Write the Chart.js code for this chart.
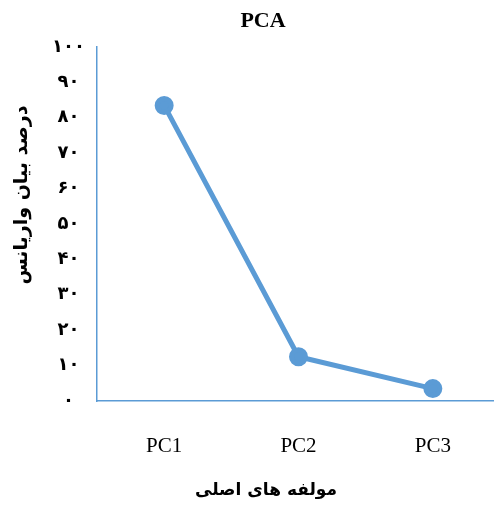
<!DOCTYPE html>
<html>
<head>
<meta charset="utf-8">
<script src="https://cdn.jsdelivr.net/npm/chart.js@4/dist/chart.umd.min.js"></script>
<style>
  html, body { margin: 0; padding: 0; background: #fff; overflow: hidden; }
</style>
</head>
<body>
<canvas id="c" width="500" height="509"></canvas>
<script>
// Principal components and the share of variance each one explains (%)
const components = ['PC1', 'PC2', 'PC3'];
const varianceShare = [83.5, 12.5, 3.5];
// Y tick labels in Persian digits, 0..100 step 10
const yTickLabels = ['۰', '۱۰', '۲۰', '۳۰', '۴۰', '۵۰', '۶۰', '۷۰', '۸۰', '۹۰', '۱۰۰'];

const chartTitle = 'PCA';
const yTitle = 'درصد بیان واریانس';
const xTitle = 'مولفه های اصلی';

const blue = '#5b9bd5';
const arabicFont = '"DejaVu Sans", sans-serif';
const serifFont = '"Liberation Serif", "Times New Roman", serif';

// Titles drawn as text at fixed spots around the plot
const titlesPlugin = {
  id: 'titles',
  afterDraw(chart) {
    const ctx = chart.ctx;
    ctx.save();
    ctx.fillStyle = '#000';
    ctx.textAlign = 'center';
    ctx.textBaseline = 'middle';
    ctx.font = 'bold 22px ' + serifFont;
    ctx.fillText(chartTitle, 263, 21);

    ctx.font = 'bold 17px ' + arabicFont;
    ctx.direction = 'rtl';
    ctx.fillText(xTitle, 266, 491);

    ctx.translate(22, 195);
    ctx.rotate(-Math.PI / 2);
    ctx.font = 'bold 19px ' + arabicFont;
    ctx.fillText(yTitle, 0, 0);
    ctx.restore();
  }
};

new Chart(document.getElementById('c'), {
  type: 'line',
  data: {
    labels: components,
    datasets: [{
      data: varianceShare,
      borderColor: blue,
      backgroundColor: blue,
      borderWidth: 5,
      pointRadius: 7,
      pointHoverRadius: 7,
      pointBackgroundColor: blue,
      pointBorderColor: blue,
      tension: 0,
      fill: false
    }]
  },
  options: {
    responsive: false,
    animation: false,
    layout: { autoPadding: false, padding: { left: 0, top: 47, right: 0, bottom: 0 } },
    plugins: {
      legend: { display: false },
      title: { display: false },
      tooltip: { enabled: false }
    },
    scales: {
      x: {
        offset: true,
        grid: { display: false, drawTicks: false },
        border: { display: true, color: blue, width: 1.5 },
        ticks: {
          color: '#000',
          font: { family: serifFont, size: 21 },
          padding: 33
        },
        afterFit(scale) {
          scale.height = 108;
          scale.paddingLeft = 0;
          scale.paddingRight = 0;
        }
      },
      y: {
        min: 0,
        max: 100,
        grid: { display: false, drawTicks: false },
        border: { display: true, color: blue, width: 1.5 },
        ticks: {
          stepSize: 10,
          color: '#000',
          font: { family: arabicFont, size: 18, weight: 'bold' },
          crossAlign: 'center',
          padding: 12,
          callback: (v) => yTickLabels[Math.round(v / 10)]
        },
        afterFit(scale) { scale.width = 97; }
      }
    }
  },
  plugins: [titlesPlugin]
});
</script>
</body>
</html>
